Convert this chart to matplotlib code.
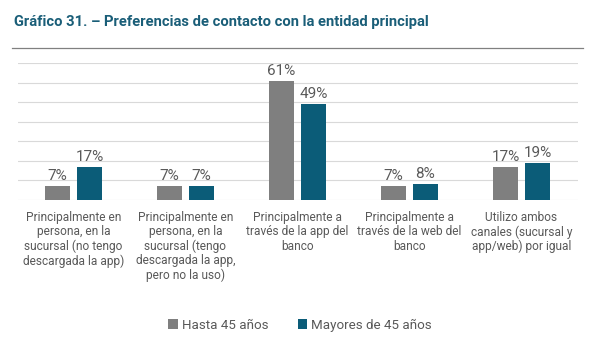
import matplotlib.pyplot as plt
import numpy as np

categorias = [
    "Principalmente en\npersona, en la\nsucursal (no tengo\ndescargada la app)",
    "Principalmente en\npersona, en la\nsucursal (tengo\ndescargada la app,\npero no la uso)",
    "Principalmente a\ntravés de la app del\nbanco",
    "Principalmente a\ntravés de la web del\nbanco",
    "Utilizo ambos\ncanales (sucursal y\napp/web) por igual",
]
hasta_45 = [7, 7, 61, 7, 17]
mayores_45 = [17, 7, 49, 8, 19]
series = ["Hasta 45 años", "Mayores de 45 años"]

gris = "#7f7f7f"
azul = "#0b5c78"
texto = "#595959"
titulo_color = "#1a5e78"

plt.rcParams['font.family'] = ['Roboto', 'DejaVu Sans']

fig = plt.figure(figsize=(5.96, 3.47), dpi=100)
ax = fig.add_axes([17.5 / 596, 1 - 200 / 347, 560 / 596, 137 / 347])

x = np.arange(len(categorias))
w = 0.223
off = (w + 0.0625) / 2
b1 = ax.bar(x - off, hasta_45, w, color=gris, label=series[0], zorder=3)
b2 = ax.bar(x + off, mayores_45, w, color=azul, label=series[1], zorder=3)

for barras in (b1, b2):
    for b in barras:
        ax.text(b.get_x() + b.get_width() / 2, b.get_height() + 1.5,
                f"{int(b.get_height())}%", ha='center', va='bottom',
                fontsize=11, color=texto)

ax.set_xlim(-0.5, len(categorias) - 0.5)
ax.set_ylim(0, 70)
ax.set_yticks(np.arange(0, 71, 10))
ax.yaxis.grid(True, color="#d9d9d9", lw=0.8, zorder=0)
ax.tick_params(axis='y', left=False, labelleft=False)
ax.set_xticks(x)
ax.set_xticklabels(categorias, fontsize=8.6, color=texto, linespacing=1.12)
ax.tick_params(axis='x', length=0, pad=8)
for s in ax.spines.values():
    s.set_visible(False)

fig.text(14 / 596, 1 - 22 / 347, "Gráfico 31. – Preferencias de contacto con la entidad principal",
         fontsize=10.6, fontweight='bold', color=titulo_color, va='center')
fig.add_artist(plt.Line2D([12 / 596, 583 / 596], [1 - 48 / 347, 1 - 48 / 347],
                          color="#808080", lw=0.9))

fig.legend(loc='center', bbox_to_anchor=(300 / 596, 1 - 325 / 347), ncol=2,
           frameon=False, fontsize=9.6, labelcolor=texto, handlelength=0.7,
           handleheight=0.7, handletextpad=0.3, columnspacing=2.2)

plt.savefig("out.png", dpi=100)
